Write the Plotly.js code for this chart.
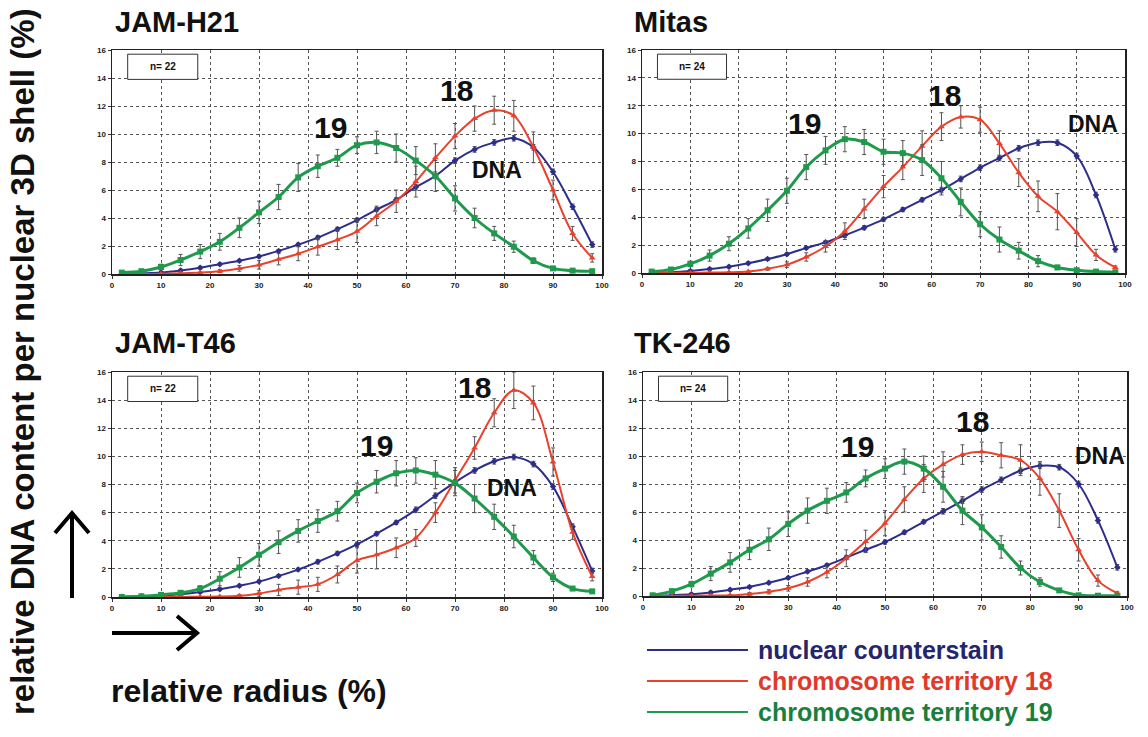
<!DOCTYPE html>
<html>
<head>
<meta charset="utf-8">
<script src="https://cdn.plot.ly/plotly-3.0.1.min.js"></script>
<style>html,body{margin:0;padding:0;background:#fff;}#chart{width:1148px;height:737px;}</style>
</head>
<body>
<div id="chart"></div>
<script>
// ---------- DATA ----------
const radius = [2,6,10,14,18,22,26,30,34,38,42,46,50,54,58,62,66,70,74,78,82,86,90,94,98];
const xTicks = [0,10,20,30,40,50,60,70,80,90,100];
const yTicks = [0,2,4,6,8,10,12,14,16];
const panelNames = ["JAM-H21","Mitas","JAM-T46","TK-246"];
const panelN = ["n= 22","n= 24","n= 22","n= 24"];
const legendLabels = ["nuclear counterstain","chromosome territory 18","chromosome territory 19"];

// JAM-H21
const h21_dna  = [0.02,0.05,0.1,0.25,0.45,0.7,0.95,1.25,1.65,2.1,2.6,3.2,3.85,4.6,5.3,6.2,7.0,8.1,8.9,9.4,9.7,9.05,7.3,4.8,2.1];
const h21_ct18 = [0,0,0.02,0.05,0.1,0.2,0.4,0.65,1.05,1.45,1.95,2.45,3.05,4.15,5.2,6.6,8.3,9.85,11.1,11.7,11.3,9.05,6.0,2.9,1.15];
const h21_ct19 = [0.1,0.2,0.5,1.0,1.6,2.3,3.3,4.4,5.5,6.9,7.7,8.3,9.2,9.4,9.0,8.1,7.0,5.4,4.0,2.9,1.95,0.95,0.4,0.24,0.2];
const h21_dna_err  = [0,0,0.1,0.1,0.1,0.1,0.1,0.1,0.1,0.1,0.15,0.15,0.15,0.15,0.15,0.2,0.2,0.2,0.2,0.2,0.2,0.2,0.2,0.2,0.2];
const h21_ct18_err = [0,0,0,0,0,0.1,0.2,0.3,0.4,0.5,0.6,0.7,0.8,0.7,0.8,1.1,1.0,0.9,0.9,1.0,1.1,1.1,0.7,0.5,0.3];
const h21_ct19_err = [0,0,0.2,0.4,0.5,0.6,0.7,0.8,0.9,1.0,0.8,0.6,0.6,0.8,1.0,1.0,1.1,0.9,0.7,0.5,0.4,0.2,0.1,0,0];

// Mitas
const mit_dna  = [0.02,0.06,0.15,0.28,0.45,0.7,1.0,1.35,1.8,2.2,2.7,3.25,3.85,4.55,5.25,5.95,6.75,7.55,8.25,8.95,9.35,9.35,8.4,5.6,1.7];
const mit_ct18 = [0,0,0.02,0.03,0.05,0.1,0.3,0.6,1.15,1.9,3.0,4.6,6.2,7.6,9.1,10.5,11.2,11.0,9.3,7.2,5.5,4.4,2.9,1.3,0.4];
const mit_ct19 = [0.1,0.25,0.65,1.25,2.1,3.2,4.5,5.9,7.6,8.8,9.6,9.4,8.7,8.6,8.1,6.8,5.1,3.5,2.4,1.6,0.85,0.4,0.2,0.1,0.05];
const mit_dna_err  = [0,0,0.1,0.1,0.1,0.1,0.1,0.1,0.1,0.1,0.15,0.15,0.15,0.15,0.15,0.2,0.2,0.2,0.2,0.2,0.2,0.2,0.2,0.2,0.2];
const mit_ct18_err = [0,0,0,0,0,0,0.1,0.2,0.3,0.4,0.6,0.7,0.8,0.9,1.1,1.0,0.8,0.9,0.9,1.0,1.1,1.3,1.0,0.4,0.1];
const mit_ct19_err = [0,0,0.2,0.4,0.5,0.7,0.8,0.9,0.9,1.0,0.9,0.9,0.9,0.9,1.1,1.2,1.0,0.9,0.9,0.6,0.4,0.15,0.1,0,0];

// JAM-T46
const t46_dna  = [0.02,0.05,0.1,0.2,0.35,0.55,0.8,1.1,1.5,1.95,2.5,3.1,3.75,4.5,5.3,6.2,7.2,8.15,9.0,9.65,9.95,9.45,7.85,5.0,1.85];
const t46_ct18 = [0,0,0,0,0.02,0.03,0.08,0.25,0.5,0.7,0.9,1.6,2.6,3.0,3.5,4.2,6.0,8.3,10.6,13.1,14.7,13.8,9.6,4.6,1.45];
const t46_ct19 = [0,0.05,0.15,0.3,0.6,1.3,2.1,3.0,3.9,4.7,5.4,6.1,7.4,8.2,8.8,9.0,8.7,8.1,7.0,5.7,4.3,2.8,1.4,0.6,0.4];
const t46_dna_err  = [0,0,0.1,0.1,0.1,0.1,0.1,0.1,0.1,0.1,0.15,0.15,0.15,0.15,0.15,0.2,0.2,0.2,0.2,0.2,0.2,0.2,0.2,0.2,0.2];
const t46_ct18_err = [0,0,0,0,0,0,0.1,0.2,0.4,0.5,0.5,0.6,0.9,1.0,0.7,0.6,0.7,0.9,0.8,1.0,1.3,1.2,1.0,0.5,0.3];
const t46_ct19_err = [0,0,0.1,0.1,0.2,0.5,0.7,0.8,0.8,0.8,0.8,0.7,0.7,0.8,0.9,0.9,1.0,0.9,1.0,0.9,0.8,0.5,0.3,0.1,0];

// TK-246
const tk_dna  = [0.02,0.06,0.12,0.25,0.45,0.65,0.95,1.3,1.75,2.2,2.75,3.3,3.85,4.55,5.3,6.05,6.8,7.6,8.3,8.95,9.3,9.2,8.0,5.4,2.05];
const tk_ct18 = [0,0,0.02,0.03,0.05,0.15,0.3,0.55,1.0,1.7,2.7,3.9,5.2,6.9,8.4,9.4,10.1,10.3,10.05,9.7,8.4,6.1,3.3,1.1,0.2];
const tk_ct19 = [0.05,0.35,0.85,1.6,2.4,3.3,4.05,5.15,6.1,6.8,7.4,8.4,9.1,9.6,9.1,7.8,6.1,4.9,3.5,2.0,1.0,0.4,0.05,0.02,0.02];
const tk_dna_err  = [0,0,0.1,0.1,0.1,0.1,0.1,0.1,0.1,0.1,0.15,0.15,0.15,0.15,0.15,0.2,0.2,0.2,0.2,0.2,0.2,0.2,0.2,0.2,0.2];
const tk_ct18_err = [0,0,0,0,0,0.1,0.15,0.2,0.3,0.4,0.6,0.8,0.9,0.9,1.0,0.9,0.7,0.7,0.9,1.1,1.2,1.2,0.8,0.4,0.1];
const tk_ct19_err = [0,0.1,0.2,0.5,0.7,0.7,0.8,0.9,0.9,0.9,0.7,0.6,0.7,0.9,0.9,1.1,1.0,0.9,0.8,0.5,0.3,0.1,0,0,0];

// label positions (data coords) for "19", "18", "DNA"
const lab19  = [[44.5,10.5],[33.7,10.7],[54,10.8],[44.4,10.7]];
const lab18  = [[70.4,13.1],[62.7,12.7],[74,14.9],[68,12.5]];
const labDNA = [[78.6,7.4],[93.4,10.7],[81.6,7.75],[94.4,10.0]];

// ---------- STYLE ----------
const W = 1148, H = 737;
const px = v => v / W, py = v => 1 - v / H;
const C_DNA = "#2d2d8c", C_18 = "#e8412c", C_19 = "#1f9a4d";
const FONT = "Liberation Sans, Arial, sans-serif";

const panels = [
  {dna:h21_dna, c18:h21_ct18, c19:h21_ct19, e0:h21_dna_err, e18:h21_ct18_err, e19:h21_ct19_err, x:[112,602], y:[50,274]},
  {dna:mit_dna, c18:mit_ct18, c19:mit_ct19, e0:mit_dna_err, e18:mit_ct18_err, e19:mit_ct19_err, x:[642,1125], y:[50,273]},
  {dna:t46_dna, c18:t46_ct18, c19:t46_ct19, e0:t46_dna_err, e18:t46_ct18_err, e19:t46_ct19_err, x:[112,602], y:[372,597]},
  {dna:tk_dna, c18:tk_ct18, c19:tk_ct19, e0:tk_dna_err, e18:tk_ct18_err, e19:tk_ct19_err, x:[643,1127], y:[372,596]}
];
const titlePos = [[113,22],[632,22],[113,343],[632,343]];

const traces = [];
const layout = {
  width: W, height: H, margin:{l:0,r:0,t:0,b:0},
  paper_bgcolor:"#fff", plot_bgcolor:"#fff", showlegend:false,
  font:{family:FONT, color:"#111"},
  annotations:[], shapes:[]
};

function errObj(arr){
  return {type:"data", array:arr, visible:true, color:"#555", thickness:1, width:2};
}

panels.forEach((p, i) => {
  const k = i === 0 ? "" : String(i + 1);
  const xa = "x" + k, ya = "y" + k;
  const common = {x: radius, xaxis: xa, yaxis: ya, mode: "lines+markers", cliponaxis: true};
  traces.push(Object.assign({}, common, {y:p.dna, name:legendLabels[0], error_y:errObj(p.e0),
    line:{color:C_DNA, width:2, shape:"spline"}, marker:{symbol:"diamond", size:5, color:C_DNA}}));
  traces.push(Object.assign({}, common, {y:p.c18, name:legendLabels[1], error_y:errObj(p.e18),
    line:{color:C_18, width:2, shape:"spline"}, marker:{symbol:"triangle-up", size:6, color:C_18}}));
  traces.push(Object.assign({}, common, {y:p.c19, name:legendLabels[2], error_y:errObj(p.e19),
    line:{color:C_19, width:3, shape:"spline"}, marker:{symbol:"square", size:6, color:C_19}}));

  const axCommon = {showline:true, linecolor:"#222", linewidth:1.5, mirror:true,
    showgrid:true, gridcolor:"#555", griddash:"dot", gridwidth:1, zeroline:false,
    ticks:"outside", ticklen:3, tickcolor:"#333",
    tickfont:{family:FONT, size:8, color:"#222", weight:"bold"}, fixedrange:true};
  layout["xaxis" + k] = Object.assign({}, axCommon, {domain:[px(p.x[0]), px(p.x[1])], range:[0,100],
    tickvals:xTicks, anchor:ya});
  layout["yaxis" + k] = Object.assign({}, axCommon, {domain:[py(p.y[1]), py(p.y[0])], range:[0,16],
    tickvals:yTicks, anchor:xa});

  // n= box
  layout.shapes.push({type:"rect", xref:xa, yref:ya, x0:3.2, x1:17.5, y0:13.9, y1:15.7,
    line:{color:"#333", width:1}, fillcolor:"#fff", layer:"above"});
  layout.annotations.push({xref:xa, yref:ya, x:10.35, y:14.8, text:panelN[i], showarrow:false,
    font:{family:FONT, size:10, color:"#111", weight:"bold"}});
  // curve labels
  layout.annotations.push({xref:xa, yref:ya, x:lab19[i][0], y:lab19[i][1], text:"19", showarrow:false,
    font:{family:FONT, size:30, color:"#111", weight:"bold"}});
  layout.annotations.push({xref:xa, yref:ya, x:lab18[i][0], y:lab18[i][1], text:"18", showarrow:false,
    font:{family:FONT, size:30, color:"#111", weight:"bold"}});
  layout.annotations.push({xref:xa, yref:ya, x:labDNA[i][0], y:labDNA[i][1], text:"DNA", showarrow:false,
    font:{family:FONT, size:23, color:"#111", weight:"bold"}});
  // panel title
  layout.annotations.push({xref:"paper", yref:"paper", x:px(titlePos[i][0]), y:py(titlePos[i][1]),
    xanchor:"left", yanchor:"middle", text:panelNames[i], showarrow:false,
    font:{family:FONT, size:29, color:"#111", weight:"bold"}});
});

// y-axis title
layout.annotations.push({xref:"paper", yref:"paper", x:px(22), y:py(362), xanchor:"center", yanchor:"middle", textangle:-90,
  text:"relative DNA content per nuclear 3D shell (%)", showarrow:false,
  font:{family:FONT, size:33, color:"#111", weight:"bold"}});
// x-axis title
layout.annotations.push({xref:"paper", yref:"paper", x:px(109), y:py(691), xanchor:"left", yanchor:"middle",
  text:"relative radius (%)", showarrow:false,
  font:{family:FONT, size:32, color:"#111", weight:"bold"}});

// arrows
const pathOf = pts => pts.map((q, j) => (j ? "L" : "M") + px(q[0]) + "," + py(q[1])).join(" ");
layout.shapes.push({type:"path", xref:"paper", yref:"paper", path:pathOf([[72,598],[72,513]]), line:{color:"#000", width:4}});
layout.shapes.push({type:"path", xref:"paper", yref:"paper", path:pathOf([[55,533],[72,513],[89,533]]), line:{color:"#000", width:4}});
layout.shapes.push({type:"path", xref:"paper", yref:"paper", path:pathOf([[112,633],[197,633]]), line:{color:"#000", width:4}});
layout.shapes.push({type:"path", xref:"paper", yref:"paper", path:pathOf([[177,616],[197,633],[177,650]]), line:{color:"#000", width:4}});

// legend (manual)
const legColors = [C_DNA, C_18, C_19];
const legText = ["#25256e", "#e03a2a", "#1a7f3c"];
const legY = [650, 681, 712];
legendLabels.forEach((t, j) => {
  layout.shapes.push({type:"line", xref:"paper", yref:"paper", x0:px(647), x1:px(748), y0:py(legY[j]), y1:py(legY[j]),
    line:{color:legColors[j], width:2}});
  layout.annotations.push({xref:"paper", yref:"paper", x:px(756), y:py(legY[j]), xanchor:"left", yanchor:"middle",
    text:t, showarrow:false, font:{family:FONT, size:25, color:legText[j], weight:"bold"}});
});

Plotly.newPlot("chart", traces, layout, {staticPlot:true, displayModeBar:false});
</script>
</body>
</html>
